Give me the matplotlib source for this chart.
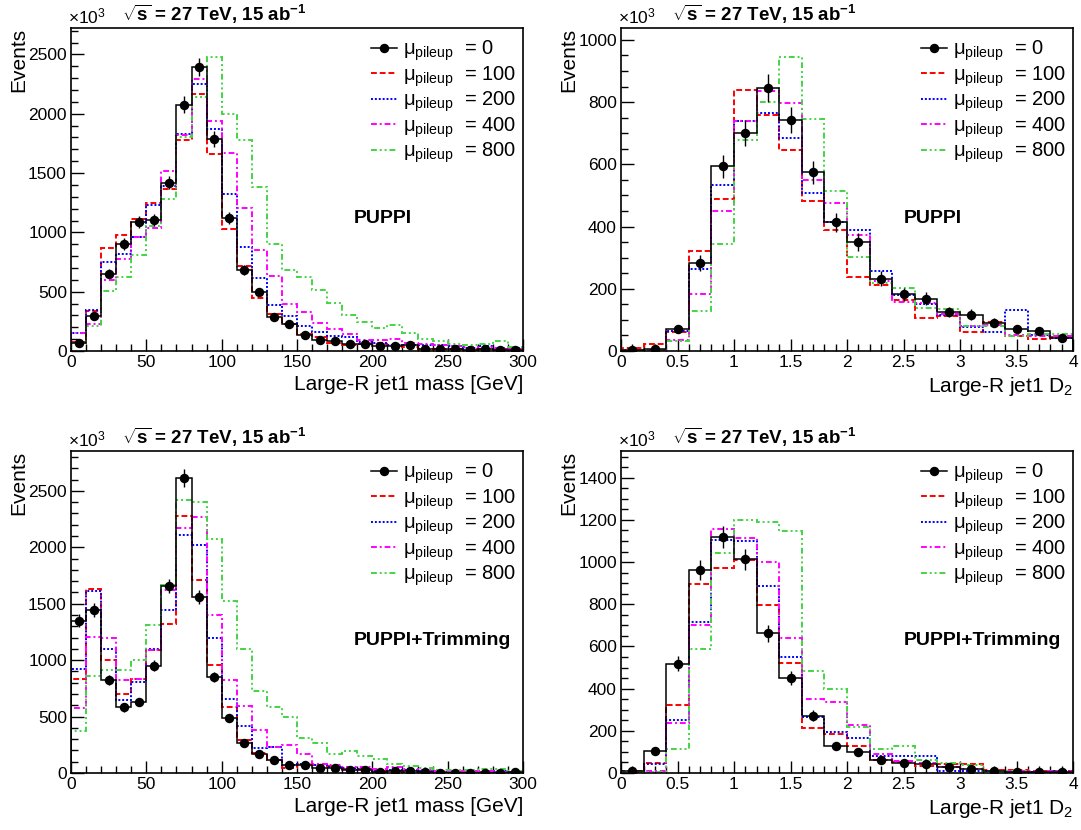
import matplotlib
matplotlib.use("Agg")
import matplotlib.pyplot as plt
import numpy as np
from matplotlib.lines import Line2D
from matplotlib.ticker import MultipleLocator

plt.rcParams['font.family'] = ['Liberation Sans', 'DejaVu Sans']
plt.rcParams['mathtext.fontset'] = 'custom'
plt.rcParams['mathtext.rm'] = 'Liberation Sans'
plt.rcParams['mathtext.it'] = 'Liberation Sans:italic'
plt.rcParams['mathtext.bf'] = 'Liberation Sans:bold'

# ---- data (events x10^3) ----
mass_edges = np.arange(0, 301, 10)
d2_edges = np.round(np.arange(0, 4.01, 0.2), 2)
pileups = [0, 100, 200, 400, 800]

# Large-R jet1 mass, PUPPI
mass_puppi = {
    0:   [70, 294, 652, 902, 1086, 1103, 1420, 2075, 2397, 1789, 1120, 683, 496, 288, 227,
          134, 95, 84, 62, 62, 45, 39, 48, 20, 20, 20, 8, 17, 8, 8],
    100: [75, 336, 865, 980, 1111, 1249, 1364, 1778, 2170, 1663, 1030, 720, 448, 316, 224,
          140, 118, 64, 50, 56, 56, 48, 36, 20, 20, 14, 14, 14, 14, 14],
    200: [154, 342, 748, 818, 958, 1235, 1392, 1826, 2254, 1870, 1324, 876, 616, 384, 294,
          210, 160, 126, 120, 76, 70, 53, 48, 53, 50, 42, 28, 42, 20, 28],
    400: [154, 224, 602, 776, 958, 1036, 1520, 1820, 2296, 1940, 1672, 1204, 848, 630, 398,
          330, 238, 182, 140, 90, 90, 104, 64, 56, 48, 39, 36, 31, 25, 20],
    800: [70, 210, 510, 624, 806, 1050, 1282, 1806, 2142, 2478, 1996, 1778, 1380, 904, 686,
          624, 518, 406, 300, 244, 193, 218, 154, 98, 81, 59, 53, 56, 81, 36],
}

# Large-R jet1 D2, PUPPI
d2_puppi = {
    0:   [2, 8, 72, 282, 593, 701, 845, 743, 575, 413, 350, 232, 182, 168, 125, 117, 91, 72, 64, 43],
    100: [11, 24, 60, 320, 487, 839, 760, 646, 483, 390, 237, 213, 165, 106, 112, 61, 94, 48, 37, 45],
    200: [4, 4, 63, 262, 532, 740, 765, 684, 507, 413, 390, 256, 179, 152, 117, 77, 61, 132, 50, 42],
    400: [2, 4, 36, 182, 451, 740, 834, 797, 551, 476, 373, 225, 157, 155, 120, 79, 82, 50, 48, 48],
    800: [2, 2, 31, 128, 344, 678, 801, 945, 744, 514, 302, 220, 202, 138, 136, 79, 79, 48, 56, 56],
}

# Large-R jet1 mass, PUPPI+Trimming
mass_trim = {
    0:   [1350, 1444, 825, 581, 629, 952, 1655, 2610, 1563, 848, 489, 267, 172, 113, 68,
          68, 44, 44, 30, 30, 9, 18, 15, 9, 3, 3, 3, 3, 3, 9],
    100: [830, 1634, 1002, 697, 836, 1091, 1323, 2278, 1714, 958, 581, 291, 178, 113, 44,
          83, 68, 59, 39, 39, 18, 18, 9, 9, 9, 9, 9, 9, 9, 9],
    200: [922, 1610, 1097, 647, 804, 1100, 1447, 2106, 2020, 1195, 652, 415, 222, 231, 74,
          83, 74, 53, 44, 33, 18, 30, 24, 15, 15, 9, 15, 9, 18, 9],
    400: [578, 1204, 1195, 825, 836, 1091, 1625, 2174, 2266, 1397, 825, 593, 380, 231, 246,
          166, 83, 68, 53, 53, 39, 53, 33, 24, 18, 18, 15, 15, 9, 9],
    800: [371, 860, 914, 914, 1002, 1308, 1670, 2420, 2397, 2070, 1527, 1100, 730, 581, 498,
          314, 267, 166, 193, 151, 128, 83, 59, 47, 24, 24, 24, 33, 33, 18],
}

# Large-R jet1 D2, PUPPI+Trimming
d2_trim = {
    0:   [10, 105, 519, 962, 1119, 1014, 663, 449, 271, 129, 100, 63, 46, 41, 30, 21, 10, 5, 3, 3],
    100: [8, 49, 322, 897, 973, 1008, 798, 524, 214, 187, 129, 60, 52, 32, 44, 44, 13, 13, 10, 10],
    200: [3, 41, 251, 714, 1103, 1100, 886, 549, 267, 195, 167, 79, 79, 79, 8, 8, 8, 5, 5, 10],
    400: [3, 10, 235, 703, 1155, 1116, 1000, 640, 349, 335, 227, 89, 57, 48, 29, 21, 10, 10, 8, 8],
    800: [3, 3, 116, 587, 1041, 1198, 1190, 1147, 486, 398, 219, 116, 129, 60, 49, 37, 8, 8, 3, 3],
}

colors = {0: 'black', 100: '#ff0000', 200: '#0000ff', 400: '#ff00ff', 800: '#44d444'}
styles = {0: '-', 100: (0, (3, 1.5)), 200: (0, (1, 1)),
          400: (0, (3, 1.5, 1, 1.5)), 800: (0, (3, 1.5, 1, 1.5, 1, 1.5))}

# panel settings: (data, edges, ymax, xlabel, tag, xmajor, xminor, ymajor, yminor)
panels = [
    (mass_puppi, mass_edges, 2723, 'Large-R jet1 mass [GeV]', 'PUPPI', 50, 10, 500, 100),
    (d2_puppi, d2_edges, 1038, r'Large-R jet1 D$_{2}$', 'PUPPI', 0.5, 0.1, 200, 50),
    (mass_trim, mass_edges, 2853, 'Large-R jet1 mass [GeV]', 'PUPPI+Trimming', 50, 10, 500, 100),
    (d2_trim, d2_edges, 1527, r'Large-R jet1 D$_{2}$', 'PUPPI+Trimming', 0.5, 0.1, 200, 50),
]

# axes boxes in pixels (left, top, right, bottom)
boxes = [(71, 28, 523, 351), (621, 28, 1073, 351), (71, 451, 523, 773), (621, 451, 1073, 773)]
W, H = 1081, 830

fig = plt.figure(figsize=(W / 100, H / 100), dpi=100)

for (data, edges, ymax, xlabel, tag, xmaj, xmin, ymaj, ymin), (l, t, r, b) in zip(panels, boxes):
    ax = fig.add_axes([l / W, 1 - b / H, (r - l) / W, (b - t) / H])
    centers = 0.5 * (edges[:-1] + edges[1:])

    for p in pileups:
        ax.stairs(data[p], edges, baseline=0, color=colors[p], linestyle=styles[p],
                  linewidth=1.1 if p == 0 else 1.4, zorder=3 if p == 0 else 2)
    vals = np.array(data[0], dtype=float)
    ax.errorbar(centers, vals, yerr=1.55 * np.sqrt(vals), fmt='o', color='black',
                markersize=5.8, elinewidth=1.0, capsize=0, zorder=4)

    ax.set_xlim(edges[0], edges[-1])
    ax.set_ylim(0, ymax)
    ax.xaxis.set_major_locator(MultipleLocator(xmaj))
    ax.xaxis.set_minor_locator(MultipleLocator(xmin))
    ax.yaxis.set_major_locator(MultipleLocator(ymaj))
    ax.yaxis.set_minor_locator(MultipleLocator(ymin))
    ax.tick_params(which='both', direction='in', top=False, right=False, labelsize=12.5,
                   width=1)
    ax.tick_params(which='major', length=9, pad=3)
    ax.tick_params(which='minor', length=4.8)
    if edges[-1] == 4:
        ax.set_xticks(np.arange(0, 4.01, 0.5))
        ax.set_xticklabels(['0', '0.5', '1', '1.5', '2', '2.5', '3', '3.5', '4'])
    for s in ax.spines.values():
        s.set_linewidth(1.2)

    ax.text(1.0, -0.075, xlabel, transform=ax.transAxes, ha='right', va='top', fontsize=15)
    ax.text(-0.095, 1.0, 'Events', transform=ax.transAxes, rotation=90,
            ha='right', va='top', fontsize=15)
    ax.text(-0.007, 1.004, r'$\times10^{3}$', transform=ax.transAxes, ha='left',
            va='bottom', fontsize=12.5)
    ax.text(0.113, 1.006, r'$\mathbf{\sqrt{s}}$ = 27 TeV, 15 ab$^{\mathbf{-1}}$',
            transform=ax.transAxes, ha='left', va='bottom', fontsize=13.5,
            fontweight='bold')
    ax.text(0.69 if tag == 'PUPPI' else 0.80, 0.41, tag, transform=ax.transAxes,
            ha='center', va='center', fontsize=14, fontweight='bold')

    handles = []
    labels = []
    for p in pileups:
        if p == 0:
            h = Line2D([], [], color='black', marker='o', markersize=5.8, linewidth=1.1)
        else:
            h = Line2D([], [], color=colors[p], linestyle=styles[p], linewidth=1.4)
        handles.append(h)
        labels.append(r'$\mathrm{\mu_{pileup}}$  = %d' % p)
    ax.legend(handles, labels, loc='upper right', bbox_to_anchor=(1.008, 0.998),
              frameon=False, fontsize=14.5, handlelength=1.3, handletextpad=0.3,
              labelspacing=0.05, borderaxespad=0.1)

fig.savefig('out.png', dpi=100)
